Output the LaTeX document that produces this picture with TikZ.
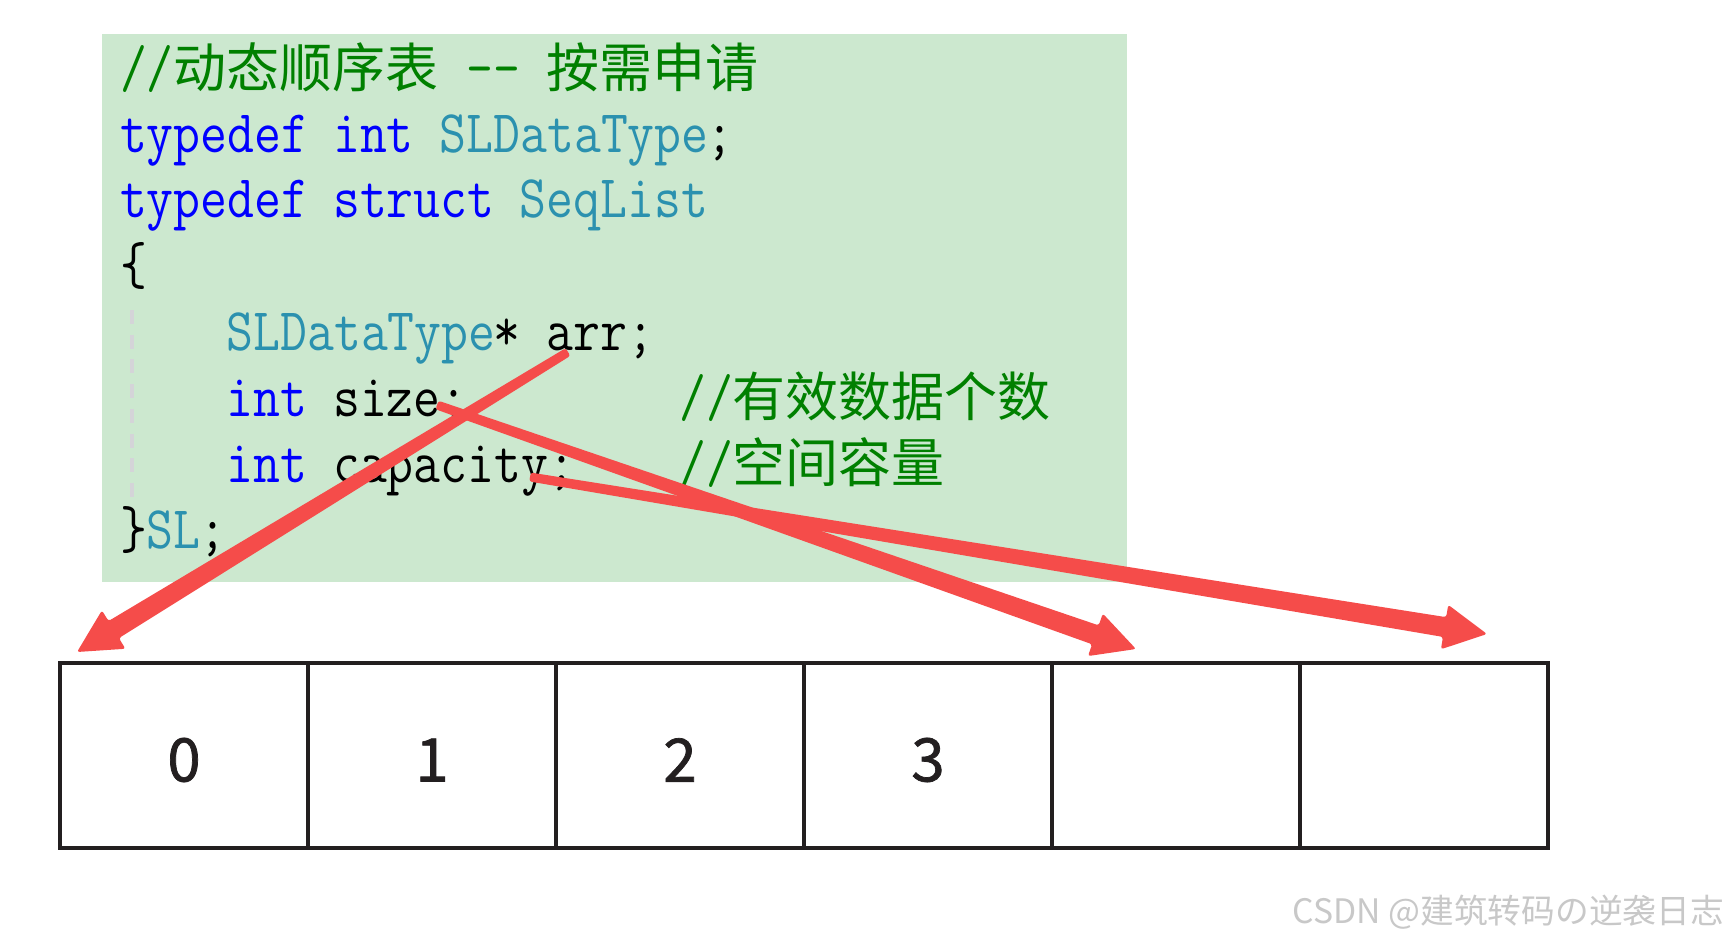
\documentclass[tikz,border=0pt]{standalone}
\usepackage{fontspec}
\usetikzlibrary{calc}
\newfontfamily\cjkfont{Noto Sans CJK SC}
\newfontfamily\digitfont[FakeBold=1.2]{Noto Sans CJK SC}
\definecolor{bggreen}{HTML}{CCE8CF}
\definecolor{kwblue}{HTML}{0000FF}
\definecolor{tyteal}{HTML}{2B91AF}
\definecolor{cmgreen}{HTML}{008000}
\definecolor{arrowred}{HTML}{F54C4A}
\definecolor{cellline}{HTML}{231F20}
\definecolor{guidegray}{HTML}{D4D4D8}
\definecolor{wmgray}{HTML}{C8C8C8}
\newcommand\stt[1]{\scalebox{1}[1.16]{#1}}
\newcommand\fatarrowdraw[2]{%
  \coordinate (#2-h) at ($(#2)!43pt!(#1)$);
  \fill[fatarrow]
    ($(#1)!4.5pt!90:(#2)$) -- ($(#2-h)!10pt!90:(#2)$) -- ($(#2-h)!22.5pt!90:(#2)$) -- (#2)
    -- ($(#2-h)!22.5pt!-90:(#2)$) -- ($(#2-h)!10pt!-90:(#2)$) -- ($(#1)!4.5pt!-90:(#2)$) -- cycle;
}
\tikzset{
  code/.style={anchor=base west, inner sep=0pt, outer sep=0pt, font=\fontsize{52.2}{60}\selectfont\ttfamily},
  cjkcode/.style={anchor=base west, inner sep=0pt, outer sep=0pt, font=\fontsize{53}{60}\selectfont\cjkfont},
  kwtext/.style={text=kwblue}, tytext/.style={text=tyteal}, cmtext/.style={text=cmgreen}, txtext/.style={text=black},
  cell/.style={draw=cellline, line width=4pt, minimum width=248pt, minimum height=185pt, inner sep=0pt},
  digit/.style={font=\fontsize{60}{70}\selectfont\digitfont, text=cellline, inner sep=0pt},
  guide/.style={draw=guidegray, line width=4pt, dash pattern=on 14pt off 10.7pt},
  fatarrow/.style={fill=arrowred, rounded corners=2.5pt},
  watermark/.style={anchor=east, font=\fontsize{33.7}{40}\selectfont\cjkfont, text=wmgray, inner sep=0pt},
}
\begin{document}
\begin{tikzpicture}[x=1pt,y=-1pt]
\def\cw{26.65}
\fill[white] (0,0) rectangle (1727,944);
\useasboundingbox (0,0) rectangle (1727,944);
% code background
\fill[bggreen] (102,34) rectangle (1127,582);
\draw[guide] (132,310) -- (132,497);
% line 1
\node[code,cmtext] (l1a) at (120,88) {\stt{//}};
\node[cjkcode,cmtext] (l1b) at (120+\cw*2,88) {动态顺序表};
\node[code,cmtext] (l1c) at (120+\cw*13,88) {\stt{{-}{-}}};
\node[cjkcode,cmtext] (l1d) at (120+\cw*16,88) {按需申请};
% line 2
\node[code,kwtext] (l2a) at (120,153) {\stt{typedef}};
\node[code,kwtext] (l2b) at (120+\cw*8,153) {\stt{int}};
\node[code,tytext] (l2c) at (120+\cw*12,153) {\stt{SLDataType}};
\node[code,txtext] (l2d) at (120+\cw*22,153) {\stt{;}};
% line 3
\node[code,kwtext] (l3a) at (120,218) {\stt{typedef}};
\node[code,kwtext] (l3b) at (120+\cw*8,218) {\stt{struct}};
\node[code,tytext] (l3c) at (120+\cw*15,218) {\stt{SeqList}};
% line 4
\node[code,txtext] (l4a) at (120,284) {\stt{\{}};
% line 5
\node[code,tytext] (l5a) at (120+\cw*4,350) {\stt{SLDataType}};
\node[code,txtext] (l5b) at (120+\cw*14,350) {\stt{* arr;}};
% line 6
\node[code,kwtext] (l6a) at (120+\cw*4,416) {\stt{int}};
\node[code,txtext] (l6b) at (120+\cw*8,416) {\stt{size;}};
\node[code,cmtext] (l6c) at (120+\cw*21,416) {\stt{//}};
\node[cjkcode,cmtext] (l6d) at (120+\cw*23,416) {有效数据个数};
% line 7
\node[code,kwtext] (l7a) at (120+\cw*4,482) {\stt{int}};
\node[code,txtext] (l7b) at (120+\cw*8,482) {\stt{capacity;}};
\node[code,cmtext] (l7c) at (120+\cw*21,482) {\stt{//}};
\node[cjkcode,cmtext] (l7d) at (120+\cw*23,482) {空间容量};
% line 8
\node[code,txtext] (l8a) at (120,548) {\stt{\}}};
\node[code,tytext] (l8b) at (120+\cw,548) {\stt{SL}};
\node[code,txtext] (l8c) at (120+\cw*3,548) {\stt{;}};
% array cells
\foreach \i in {0,...,5} {
  \node[cell] (c\i) at (184+248*\i,755.5) {};
}
\node[digit] (d0) at ($(c0)+(0,4.5)$) {0};
\node[digit] (d1) at ($(c1)+(0,4.5)$) {1};
\node[digit] (d2) at ($(c2)+(0,4.5)$) {2};
\node[digit] (d3) at ($(c3)+(0,4.5)$) {3};
% arrows
\coordinate (a1s) at (568,352);
\coordinate (a1t) at (77,652);
\coordinate (a2s) at (437,405);
\coordinate (a2t) at (1136,649);
\coordinate (a3s) at (530,477);
\coordinate (a3t) at (1487,634);
\fatarrowdraw{a1s}{a1t}
\fatarrowdraw{a2s}{a2t}
\fatarrowdraw{a3s}{a3t}
% watermark
\node[watermark] (wm) at (1724,912) {CSDN @建筑转码の逆袭日志};
\end{tikzpicture}
\end{document}
